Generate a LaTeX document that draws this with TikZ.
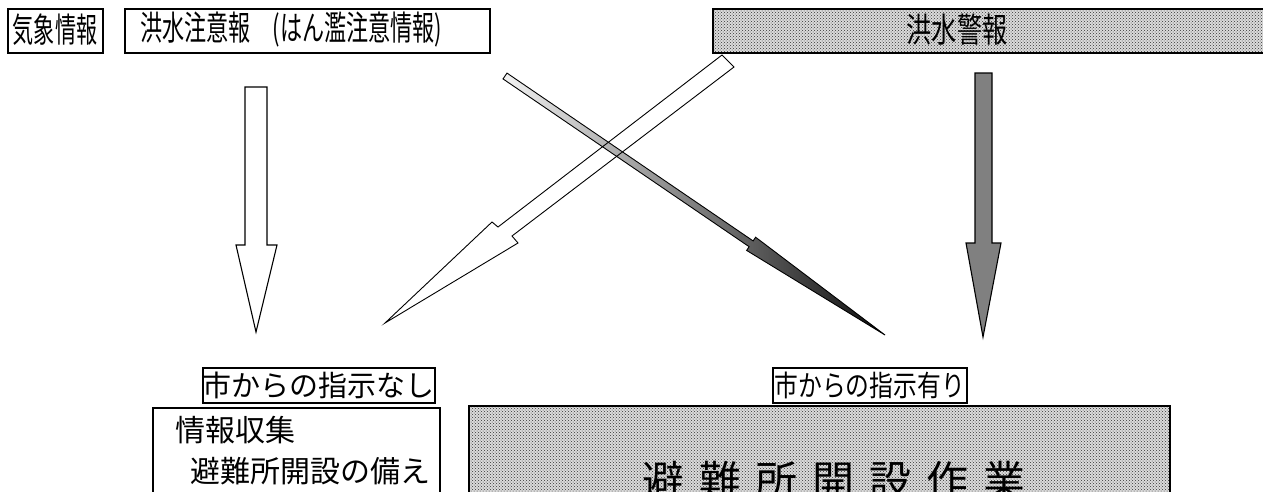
\documentclass[tikz,border=0pt]{standalone}
\usepackage{graphicx}
\usepackage{fontspec}
\newfontfamily\jp{Noto Sans CJK JP}
\usetikzlibrary{patterns}
\begin{document}
\begin{tikzpicture}[x=1pt,y=-1pt,
  box/.style={draw, line width=1.5pt, inner sep=0pt, font=\jp},
  dotbox/.style={box, preaction={fill=black!14}, pattern=crosshatch dots, pattern color=black!80},
  txt/.style={inner sep=0pt, font=\jp},
  blockarrow/.style={draw, line width=1.1pt, line join=miter}]
\useasboundingbox (0,0) rectangle (1263,491);

% top boxes
\node[box, minimum width=95, minimum height=44, anchor=north west] (kisho) at (7,8) {};
\node[txt] (kishotxt) at (55,30)
  {\fontsize{34}{34}\selectfont\scalebox{0.62}[1]{気象情報}};
\node[box, minimum width=365, minimum height=44, anchor=north west] (chui) at (124,8) {};
\node[txt, anchor=west] (chuitxt) at (140,30)
  {\fontsize{34}{34}\selectfont\scalebox{0.65}[1]{洪水注意報　(はん濫注意情報)}};
\node[dotbox, minimum width=620, minimum height=44, anchor=north west] (keiho) at (712,8) {};
\node[txt] (keihotxt) at (957,30)
  {\fontsize{34}{34}\selectfont\scalebox{0.74}[1]{洪水警報}};

% left white arrow
\draw[blockarrow, fill=white] (245,87) -- (267,87) -- (267,245) -- (277,245)
  -- (256,332) -- (236,245) -- (245,245) -- cycle;

% right gray arrow
\draw[blockarrow, fill=black!50] (975,73) -- (992,73) -- (992,243) -- (1001,243)
  -- (983,337) -- (966,243) -- (975,243) -- cycle;

% white diagonal arrow (from warning to left)
\path[fill=white] (722,55) -- (734,67) -- (512,236) -- (518,243) -- (385,323)
  -- (492,222) -- (498,227) -- cycle;

% gradient diagonal arrow (from advisory to right)
\path[draw, line width=0.9pt, left color=black!5, right color=black!95]
  (507,73.1) -- (753.1,240.9) -- (755.6,237.2) -- (885,335)
  -- (746.6,250.4) -- (749.1,246.7) -- (503,78.9) -- cycle;

\draw[blockarrow, line width=0.9pt] (722,55) -- (734,67) -- (512,236) -- (518,243) -- (385,323)
  -- (492,222) -- (498,227) -- cycle;

% bottom labels
\node[box, minimum width=230, minimum height=35, anchor=north west] (nashi) at (202,367)
  {\fontsize{29}{29}\selectfont 市からの指示なし};
\node[box, minimum width=194, minimum height=35, anchor=north west] (ari) at (772,367)
  {\fontsize{29}{29}\selectfont\scalebox{0.82}[1]{市からの指示有り}};

% bottom left box
\node[box, minimum width=287, minimum height=120, anchor=north west] (sonae) at (152,407) {};
\node[txt, anchor=west] (joho) at (175,430) {\fontsize{30}{30}\selectfont 情報収集};
\node[txt, anchor=west] (sonaetxt) at (190,471) {\fontsize{30}{30}\selectfont 避難所開設の備え};

% bottom right box
\node[dotbox, minimum width=701, minimum height=162, anchor=north west] (sagyo) at (468,405) {};
\node[txt] (sagyotxt) at (834,481)
  {\fontsize{42}{42}\selectfont 避\hspace{15pt}難\hspace{15pt}所\hspace{15pt}開\hspace{15pt}設\hspace{15pt}作\hspace{15pt}業};
\end{tikzpicture}
\end{document}
